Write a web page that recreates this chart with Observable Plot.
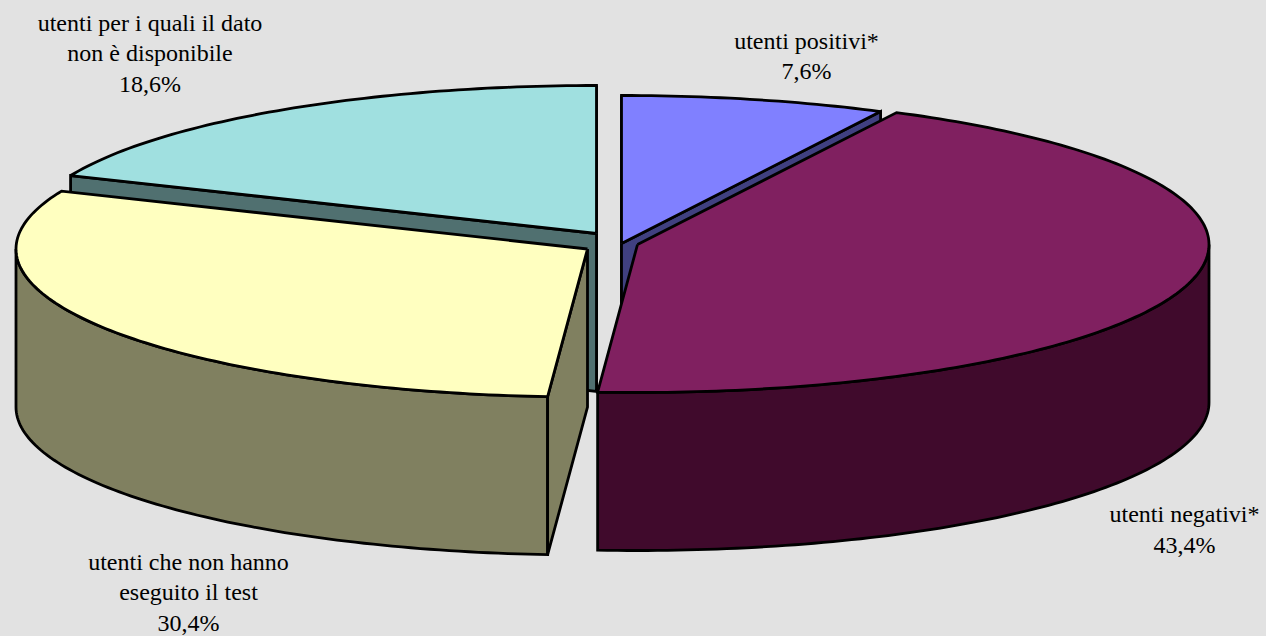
<!DOCTYPE html>
<html><head><meta charset="utf-8">
<script src="https://cdn.jsdelivr.net/npm/d3@7"></script>
<script src="https://cdn.jsdelivr.net/npm/@observablehq/plot@0.6"></script>
<style>html,body{margin:0;padding:0;background:#e2e2e2;overflow:hidden}svg{display:block}</style>
</head><body><div id="chart"></div>
<script>
// Data
const sliceNames = ["utenti positivi*", "utenti negativi*", "utenti che non hanno\neseguito il test", "utenti per i quali il dato\nnon è disponibile"];
const sliceShares = [7.6, 43.4, 30.4, 18.6];
const shareLabels = ["7,6%", "43,4%", "30,4%", "18,6%"];

// Colours
const topColors = ["#8080ff", "#802060", "#ffffc0", "#a0e0e0"];
const sideColors = ["#404080", "#400a2c", "#808060", "#507070"];

// Pie layout, in the x/y units of the plot
const rx = 571.5, ry = 148, depth = 158;
const apexX = [621, 637, 587, 596];
const apexY = [243, 244, 248.5, 233];
const edgeNudge = [-0.4, 0.4, 0, 0]; // degrees: the reference's slight perspective
const labelX = [806, 1184, 188, 149.5];
const labelY = [53.8, 527.3, 590.3, 51.3];

const rad = d => d * Math.PI / 180;
const cum = Array.from(d3.cumsum(sliceShares));
const ends = cum.map((c, i) => c * 3.6 + edgeNudge[i]);
const slices = sliceShares.map((s, i) => {
  const a1 = i ? ends[i - 1] : 0, a2 = ends[i];
  const cx = apexX[i], cy = apexY[i];
  const rim = (a) => ({x: cx + rx * Math.sin(rad(a)), y: cy - ry * Math.cos(rad(a))});
  const arc = (from, to) => {
    const n = Math.max(1, Math.ceil(Math.abs(to - from)));
    return d3.range(n + 1).map(k => rim(from + (to - from) * k / n));
  };
  return {i, a1, a2, cx, cy, rim, arc};
});
const down = p => ({x: p.x, y: p.y + depth});
const close = pts => [...pts, pts[0]];
const topFace = s => close([{x: s.cx, y: s.cy}, ...s.arc(s.a1, s.a2)]);
const radialWall = (s, a) => {
  const p = {x: s.cx, y: s.cy}, q = s.rim(a);
  return close([p, q, down(q), down(p)]);
};
const outerWall = (s, from, to) => {
  const arc = s.arc(from, to);
  return close([...arc, ...arc.slice().reverse().map(down)]);
};

const [blue, purple, yellow, cyan] = slices;
const polygons = [
  [radialWall(cyan, 360), sideColors[3]],
  [radialWall(cyan, cyan.a1), sideColors[3]],
  [topFace(cyan), topColors[3]],
  [radialWall(blue, 0), sideColors[0]],
  [radialWall(blue, blue.a2), sideColors[0]],
  [topFace(blue), topColors[0]],
  [outerWall(yellow, yellow.a1, 270), sideColors[2]],
  [radialWall(yellow, yellow.a1), sideColors[2]],
  [topFace(yellow), topColors[2]],
  [outerWall(purple, 90, purple.a2), sideColors[1]],
  [topFace(purple), topColors[1]]
];

const labels = sliceNames.map((n, i) => ({text: n + "\n" + shareLabels[i], x: labelX[i], y: labelY[i]}));

const chart = Plot.plot({
  width: 1266, height: 636,
  margin: 0,
  x: {domain: [0, 1266], range: [0, 1266], axis: null},
  y: {domain: [0, 636], range: [0, 636], axis: null},
  style: {background: "#e2e2e2"},
  marks: [
    ...polygons.map(([pts, color]) => Plot.line(pts, {
      x: "x", y: "y", fill: color, stroke: "#000", strokeWidth: 2.8,
      strokeLinejoin: "miter", strokeMiterlimit: 3, strokeLinecap: "butt"
    })),
    Plot.text(labels, {
      x: "x", y: "y", text: "text", fontFamily: "'Liberation Serif', serif",
      fontSize: 24, lineHeight: 1.26, fill: "#000", textAnchor: "middle", lineAnchor: "middle"
    })
  ]
});
document.getElementById("chart").append(chart);
</script></body></html>
